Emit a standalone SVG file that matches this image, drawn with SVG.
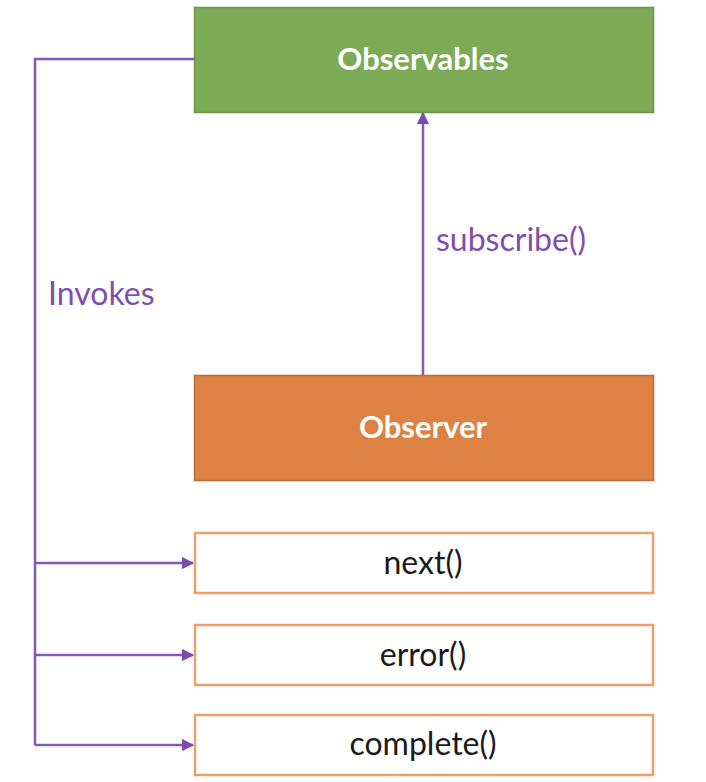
<svg xmlns="http://www.w3.org/2000/svg" width="706" height="782" viewBox="0 0 706 782">
<defs>
<style>
.lbl{font-family:Lato,"Open Sans","Liberation Sans",sans-serif;font-size:32px;fill:#7E4FAF}
.head{font-family:Lato,"Open Sans","Liberation Sans",sans-serif;font-size:31px;font-weight:bold;fill:#FFFFFF;text-anchor:middle}
.meth{font-family:Lato,"Open Sans","Liberation Sans",sans-serif;font-size:32px;fill:#1a1a1a;text-anchor:middle}
.conn{stroke:#8257B8;stroke-width:2.5;fill:none}
.mbox{fill:#FFFFFF;stroke:#EE9F6C;stroke-width:2.5}
</style>
<marker id="arr" viewBox="0 0 10 10" refX="9" refY="5" markerWidth="5" markerHeight="5" orient="auto" markerUnits="strokeWidth">
<path d="M0,0 L10,5 L0,10 z" fill="#7A4CB0"/>
</marker>
</defs>
<rect width="706" height="782" fill="#FFFFFF"/>
<g id="connectors">
<polyline class="conn" points="194,59 35,59 35,745"/>
<line class="conn" x1="35" y1="563" x2="193" y2="563" marker-end="url(#arr)"/>
<line class="conn" x1="35" y1="655" x2="193" y2="655" marker-end="url(#arr)"/>
<line class="conn" x1="35" y1="745" x2="193" y2="745" marker-end="url(#arr)"/>
<line class="conn" x1="423" y1="375" x2="423" y2="113" marker-end="url(#arr)"/>
<text class="lbl" x="48" y="305">Invokes</text>
<text class="lbl" x="436" y="251">subscribe()</text>
</g>
<g id="observables">
<rect x="194.5" y="7.5" width="459" height="105" fill="#7DAB55" stroke="#6A9548" stroke-width="1.5"/>
<text class="head" x="423" y="70">Observables</text>
</g>
<g id="observer">
<rect x="194.5" y="375.5" width="459" height="105" fill="#DE8244" stroke="#B96C38" stroke-width="1.5"/>
<text class="head" x="423" y="438">Observer</text>
</g>
<g id="next">
<rect class="mbox" x="195" y="533" width="458" height="60"/>
<text class="meth" x="423" y="574">next()</text>
</g>
<g id="error">
<rect class="mbox" x="195" y="625" width="458" height="60"/>
<text class="meth" x="423" y="666">error()</text>
</g>
<g id="complete">
<rect class="mbox" x="195" y="715" width="458" height="60"/>
<text class="meth" x="423" y="755">complete()</text>
</g>
</svg>
